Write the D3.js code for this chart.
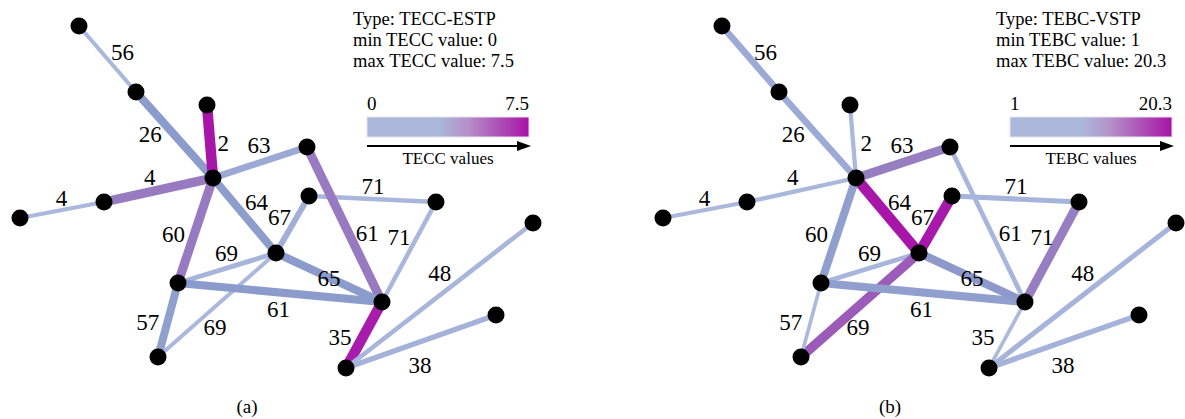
<!DOCTYPE html>
<html>
<head>
<meta charset="utf-8">
<script src="https://cdn.jsdelivr.net/npm/d3@7"></script>
<style>
  body { margin: 0; background: #fff; }
  svg { display: block; }
</style>
</head>
<body>
<svg id="chart" width="1185" height="419"></svg>
<script>
// Node layout positions (same layout in both panels)
const nodeIds = ["A", "B", "C", "D", "E", "F", "G", "H", "I", "J", "K", "L", "M", "N", "O", "P"];
const nodeX = [79, 136, 207, 213, 104, 20, 307, 309, 436, 276, 178, 382, 158, 346, 533, 496];
const nodeY = [26, 92, 105, 178, 202, 218, 147, 196, 202, 253, 283, 302, 357, 368, 223, 315];

// Edges: endpoints and their number labels
const edgeSource = ["A", "B", "C", "D", "E", "F", "D", "J", "K", "H", "G", "L", "K", "M", "K", "J", "M", "N", "N", "N"];
const edgeTarget = ["B", "D", "D", "G", "D", "E", "J", "H", "D", "I", "L", "I", "J", "J", "L", "L", "K", "L", "O", "P"];
const edgeLabels = [56, 26, 2, 63, 4, 4, 64, 67, 60, 71, 61, 71, 69, 69, 61, 65, 57, 35, 48, 38];

// Edge values per panel
const teccValues = [0.3, 2.6, 7.5, 1.6, 4.5, 0.3, 2.5, 1.2, 4.5, 0.5, 4.5, 0.5, 0.7, 0.3, 2.6, 2.6, 2.3, 7.3, 0.6, 1.0];
const tebcValues = [5, 5, 2, 12, 2, 2, 20.3, 20, 7, 3, 2.5, 12, 2.5, 15, 7, 8, 1.2, 1.2, 3, 3.5];

// Where each label sits: fraction along the edge, and side offset
const labelAlong = [0.55, 0.35, 0.54, 0.545, 0.45, 0.52, 0.47, 0.5, 0.41, 0.5, 0.6, 0.575, 0.54, 0.4, 0.5, 0.5, 0.41, 0.32, 0.56, 0.445];
const labelSide = [16, -17, 13, 17, 15, 12, 18, 15, 20, 13, 17, 16, 15, -15, -17, 0, 19, 20, 18, -22];

const panels = [
  { offset: 0, type: "TECC-ESTP", name: "TECC", min: 0, max: 7.5, values: teccValues, caption: "(a)" },
  { offset: 643, type: "TEBC-VSTP", name: "TEBC", min: 1, max: 20.3, values: tebcValues, caption: "(b)" }
];

const svg = d3.select("#chart");
const font = "'Liberation Serif', 'Times New Roman', serif";

// shared gradient for the legend bars
const defs = svg.append("defs");
const grad = defs.append("linearGradient").attr("id", "legendGrad");
[[0, "#abb8dc"], [0.45, "#aab7db"], [0.62, "#b590c9"], [0.8, "#ad55b9"], [1, "#aa12a6"]]
  .forEach(s => grad.append("stop").attr("offset", s[0]).attr("stop-color", s[1]));

const y = d3.scaleLinear().domain([0, 419]).range([0, 419]);

function drawPanel(p) {
  const x = d3.scaleLinear().domain([0, 560]).range([p.offset, p.offset + 560]);
  const g = svg.append("g");

  const nodes = nodeIds.map((id, i) => ({ id, x: nodeX[i], y: nodeY[i] }));
  const byId = new Map(nodes.map(n => [n.id, n]));
  const edges = edgeSource.map((s, i) => ({
    s: byId.get(edgeSource[i]), t: byId.get(edgeTarget[i]),
    label: edgeLabels[i], value: p.values[i], along: labelAlong[i], side: labelSide[i]
  }));

  const norm = d3.scaleLinear().domain([p.min, p.max]).range([0, 1]).clamp(true);
  const color = d3.scaleLinear()
    .domain([0, 0.15, 0.35, 0.6, 1])
    .range(["#aebbde", "#a3b1d9", "#8b9bcb", "#977ac0", "#a815a9"]);
  const width = d3.scaleLinear().domain([0, 0.3, 1]).range([3.5, 8, 10.5]);

  g.selectAll("line.edge")
    .data(edges)
    .enter()
    .append("line")
    .attr("class", "edge")
    .attr("x1", d => x(d.s.x)).attr("y1", d => y(d.s.y))
    .attr("x2", d => x(d.t.x)).attr("y2", d => y(d.t.y))
    .attr("stroke", d => color(norm(d.value)))
    .attr("stroke-width", d => width(norm(d.value)));

  g.selectAll("circle.node")
    .data(nodes)
    .enter()
    .append("circle")
    .attr("class", "node")
    .attr("cx", d => x(d.x)).attr("cy", d => y(d.y))
    .attr("r", 8.5)
    .attr("fill", "#000");

  g.selectAll("text.elabel")
    .data(edges)
    .enter()
    .append("text")
    .attr("class", "elabel")
    .attr("transform", d => {
      const x1 = x(d.s.x), y1 = y(d.s.y), x2 = x(d.t.x), y2 = y(d.t.y);
      const len = Math.hypot(x2 - x1, y2 - y1);
      const ux = (x2 - x1) / len, uy = (y2 - y1) / len;
      const px = x1 + (x2 - x1) * d.along + uy * d.side;
      const py = y1 + (y2 - y1) * d.along - ux * d.side;
      return `translate(${px},${py})`;
    })
    .attr("text-anchor", "middle")
    .attr("dy", "0.35em")
    .style("font-family", font)
    .style("font-size", "23px")
    .text(d => d.label);

  // legend text
  const info = [`Type: ${p.type}`, `min ${p.name} value: ${p.min}`, `max ${p.name} value: ${p.max}`];
  g.selectAll("text.info")
    .data(info)
    .enter()
    .append("text")
    .attr("class", "info")
    .attr("x", x(353))
    .attr("y", (d, i) => 25 + i * 21)
    .style("font-family", font)
    .style("font-size", "18.5px")
    .text(d => d);

  // colour bar
  const lx = d3.scaleLinear().domain([p.min, p.max]).range([x(367), x(529)]);
  g.append("rect")
    .attr("x", lx(p.min)).attr("y", 117)
    .attr("width", lx(p.max) - lx(p.min)).attr("height", 20)
    .attr("fill", "url(#legendGrad)")
    .attr("stroke", "#e4e4ee").attr("stroke-width", 1);

  g.append("text")
    .attr("x", lx(p.min)).attr("y", 110)
    .style("font-family", font).style("font-size", "19px")
    .text(p.min);
  g.append("text")
    .attr("x", lx(p.max)).attr("y", 110)
    .attr("text-anchor", "end")
    .style("font-family", font).style("font-size", "19px")
    .text(p.max);

  // arrow
  g.append("line")
    .attr("x1", lx(p.min)).attr("y1", 146)
    .attr("x2", lx(p.max) - 8).attr("y2", 146)
    .attr("stroke", "#000").attr("stroke-width", 1.8);
  const ax = lx(p.max) + 2;
  g.append("path")
    .attr("d", `M${ax},146 L${ax - 14},141 L${ax - 14},151 Z`)
    .attr("fill", "#000");

  g.append("text")
    .attr("x", (lx(p.min) + lx(p.max)) / 2).attr("y", 164)
    .attr("text-anchor", "middle")
    .style("font-family", font).style("font-size", "17px")
    .text(`${p.name} values`);

  // caption
  g.append("text")
    .attr("x", x(247)).attr("y", 413)
    .attr("text-anchor", "middle")
    .style("font-family", font).style("font-size", "19px")
    .text(p.caption);
}

panels.forEach(drawPanel);
</script>
</body>
</html>
